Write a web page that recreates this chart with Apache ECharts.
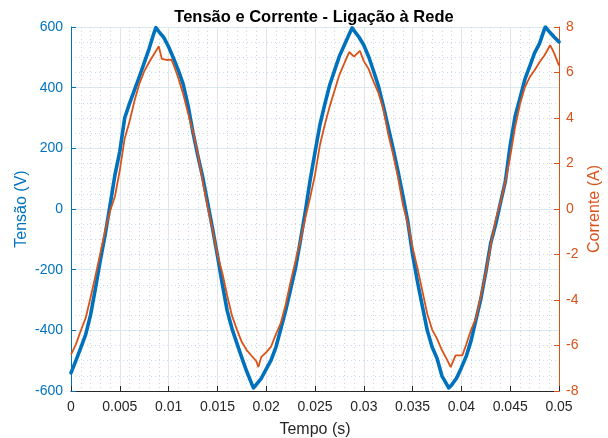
<!DOCTYPE html>
<html>
<head>
<meta charset="utf-8">
<script src="https://cdn.jsdelivr.net/npm/echarts@6/dist/echarts.min.js"></script>
<style>
  html, body { margin: 0; padding: 0; background: #ffffff; overflow: hidden; }
  #chart { width: 608px; height: 438px; }
</style>
</head>
<body>
<div id="chart"></div>
<script>
// Tensão da rede (V) amostrada no tempo (s)
const tempoTensao = [
  0, 0.0005, 0.001, 0.0015, 0.002, 0.0025, 0.003, 0.0035, 0.004, 0.0045,
  0.005, 0.0055, 0.006, 0.0065, 0.007, 0.0075, 0.008, 0.0085, 0.0087, 0.009,
  0.0095, 0.01, 0.0105, 0.011, 0.0115, 0.012, 0.0125, 0.013, 0.0135, 0.014,
  0.0145, 0.015, 0.0155, 0.016, 0.0165, 0.017, 0.0175, 0.018, 0.0185, 0.0187,
  0.019, 0.0195, 0.02, 0.0205, 0.021, 0.0215, 0.022, 0.0225, 0.023, 0.0235,
  0.024, 0.0245, 0.025, 0.0255, 0.026, 0.0265, 0.027, 0.0275, 0.028, 0.0285,
  0.0288, 0.029, 0.0295, 0.03, 0.0305, 0.031, 0.0315, 0.032, 0.0325, 0.033,
  0.0335, 0.034, 0.0345, 0.035, 0.0355, 0.036, 0.0365, 0.037, 0.0375, 0.038,
  0.0385, 0.0387, 0.039, 0.0395, 0.04, 0.0405, 0.041, 0.0415, 0.042, 0.0425,
  0.043, 0.0435, 0.044, 0.0445, 0.045, 0.0455, 0.046, 0.0465, 0.047, 0.0475,
  0.048, 0.0485, 0.0486, 0.049, 0.0495, 0.05
];
const tensao = [
  -540, -500, -458, -414, -350, -263, -170, -85, 12, 112,
  190, 300, 348, 392, 436, 482, 528, 580, 598, 585,
  566, 535, 497, 457, 411, 340, 252, 175, 104, 20,
  -64, -153, -247, -335, -395, -443, -490, -535, -575, -590,
  -578, -558, -528, -498, -455, -395, -334, -265, -195, -105,
  -10, 95, 187, 277, 345, 408, 456, 504, 540, 576,
  597, 588, 567, 540, 502, 455, 405, 340, 270, 200,
  125, 45, -40, -150, -240, -320, -400, -455, -492, -550,
  -578, -590, -580, -558, -523, -485, -433, -364, -295, -208,
  -113, -52, 20, 90, 210, 305, 365, 427, 470, 515,
  545, 592, 600, 585, 567, 551
];

// Corrente injetada (A) amostrada no tempo (s)
const tempoCorrente = [
  0, 0.0005, 0.001, 0.0015, 0.002, 0.0025, 0.003, 0.0035, 0.004, 0.0045,
  0.005, 0.0055, 0.006, 0.0065, 0.007, 0.0075, 0.008, 0.0085, 0.009, 0.0093,
  0.0098, 0.0103, 0.0108, 0.011, 0.0115, 0.012, 0.0125, 0.013, 0.0135, 0.014,
  0.0145, 0.015, 0.0155, 0.016, 0.0165, 0.017, 0.0175, 0.018, 0.0185, 0.019,
  0.0192, 0.0195, 0.02, 0.0205, 0.021, 0.0215, 0.022, 0.0225, 0.023, 0.0235,
  0.024, 0.0245, 0.025, 0.0255, 0.026, 0.0265, 0.027, 0.0275, 0.028, 0.0285,
  0.029, 0.0296, 0.03, 0.0305, 0.031, 0.0315, 0.032, 0.0325, 0.033, 0.0335,
  0.034, 0.0345, 0.035, 0.0355, 0.036, 0.0365, 0.037, 0.0375, 0.038, 0.0385,
  0.0389, 0.0394, 0.0401, 0.0405, 0.041, 0.0415, 0.042, 0.0425, 0.043, 0.0435,
  0.044, 0.0445, 0.045, 0.0455, 0.046, 0.0465, 0.047, 0.0475, 0.048, 0.0485,
  0.0491, 0.0495, 0.05
];
const corrente = [
  -6.4, -5.95, -5.35, -4.8, -3.9, -2.95, -1.95, -0.95, -0.1, 0.55,
  1.7, 3.1, 3.85, 4.75, 5.5, 6.05, 6.45, 6.8, 7.15, 6.6,
  6.55, 6.57, 6.0, 5.75, 5.05, 4.2, 3.4, 2.4, 1.2, 0.1,
  -0.9, -2.0, -2.8, -3.8, -4.7, -5.3, -5.85, -6.2, -6.45, -6.7,
  -6.95, -6.5, -6.3, -6.05, -5.5, -5.0, -4.2, -3.2, -2.3, -1.4,
  -0.4, 0.5, 1.5, 2.8, 3.7, 4.5, 5.2, 5.9, 6.4, 6.9,
  6.7, 6.95, 6.5, 6.15, 5.6, 5.1, 4.4, 3.3, 2.4, 1.4,
  0.2, -0.6, -1.7, -2.6, -3.6, -4.6, -5.3, -5.7, -6.2, -6.6,
  -6.95, -6.43, -6.43, -5.95, -5.3, -4.8, -3.8, -2.8, -1.6, -0.5,
  0.3, 1.2, 2.3, 3.6, 4.6, 5.35, 5.8, 6.1, 6.45, 6.75,
  7.2, 6.85, 6.3
];

// Escalas dos eixos
const eixoTempo = { min: 0, max: 0.05, passo: 0.005 };
const eixoTensao = { min: -600, max: 600, passo: 200 };
const eixoCorrente = { min: -8, max: 8, passo: 2 };

const AZUL = '#0072BD';
const LARANJA = '#D95319';
const ESCURO = '#262626';
const FONTE = '"Liberation Sans", Arial, Helvetica, sans-serif';

const pares = (ts, vs) => ts.map((t, i) => [t, vs[i]]);

const chart = echarts.init(document.getElementById('chart'), null, { renderer: 'canvas' });

chart.setOption({
  animation: false,
  backgroundColor: '#ffffff',
  textStyle: { fontFamily: FONTE },
  title: {
    text: 'Tensão e Corrente - Ligação à Rede',
    left: 309,
    top: 4,
    textAlign: 'center',
    textStyle: { fontFamily: FONTE, fontWeight: 'bold', fontSize: 16.5, color: '#000000' }
  },
  grid: { left: 71, right: 49, top: 27, bottom: 47, containLabel: false, outerBoundsMode: 'none' },
  xAxis: {
    type: 'value',
    min: eixoTempo.min,
    max: eixoTempo.max,
    interval: eixoTempo.passo,
    name: 'Tempo (s)',
    nameLocation: 'middle',
    nameGap: 31,
    nameMoveOverlap: false,
    nameTextStyle: { color: ESCURO, fontSize: 16, fontFamily: FONTE },
    axisLine: { show: true, onZero: false, lineStyle: { color: ESCURO, width: 1 } },
    axisTick: { show: true, inside: true, length: 5, lineStyle: { color: ESCURO } },
    axisLabel: {
      color: ESCURO, fontSize: 14, margin: 9, fontFamily: FONTE,
      formatter: v => String(parseFloat(v.toFixed(3)))
    },
    splitLine: { show: true, lineStyle: { color: '#e4e4e4', width: 1 } },
    minorTick: { show: false, splitNumber: 5 },
    minorSplitLine: { show: true, lineStyle: { color: '#d4d4d4', width: 1, type: [1, 3] } }
  },
  yAxis: [
    {
      type: 'value',
      position: 'left',
      min: eixoTensao.min,
      max: eixoTensao.max,
      interval: eixoTensao.passo,
      name: 'Tensão (V)',
      nameLocation: 'middle',
      nameGap: 41,
      nameMoveOverlap: false,
      nameTextStyle: { color: AZUL, fontSize: 16, fontFamily: FONTE },
      axisLine: { show: true, onZero: false, lineStyle: { color: AZUL, width: 1 } },
      axisTick: { show: true, inside: true, length: 5, lineStyle: { color: AZUL } },
      axisLabel: { color: AZUL, fontSize: 14, margin: 8, fontFamily: FONTE },
      splitLine: { show: true, lineStyle: { color: '#d9eaf5', width: 1 } },
      minorTick: { show: false, splitNumber: 4 },
      minorSplitLine: { show: true, lineStyle: { color: '#c6deef', width: 1, type: [1, 3] } }
    },
    {
      type: 'value',
      position: 'right',
      min: eixoCorrente.min,
      max: eixoCorrente.max,
      interval: eixoCorrente.passo,
      name: 'Corrente (A)',
      nameLocation: 'middle',
      nameGap: 28,
      nameMoveOverlap: false,
      nameTextStyle: { color: LARANJA, fontSize: 16, fontFamily: FONTE },
      axisLine: { show: true, onZero: false, lineStyle: { color: LARANJA, width: 1 } },
      axisTick: { show: true, inside: true, length: 5, lineStyle: { color: LARANJA } },
      axisLabel: { color: LARANJA, fontSize: 14, margin: 7, fontFamily: FONTE },
      splitLine: { show: false }
    }
  ],
  series: [
    {
      name: 'Tensão',
      type: 'line',
      yAxisIndex: 0,
      data: pares(tempoTensao, tensao),
      showSymbol: false,
      symbol: 'none',
      lineStyle: { color: AZUL, width: 3.6, join: 'round', cap: 'round' },
      z: 3
    },
    {
      name: 'Corrente',
      type: 'line',
      yAxisIndex: 1,
      data: pares(tempoCorrente, corrente),
      showSymbol: false,
      symbol: 'none',
      lineStyle: { color: LARANJA, width: 1.8 },
      z: 4
    }
  ]
});
</script>
</body>
</html>
